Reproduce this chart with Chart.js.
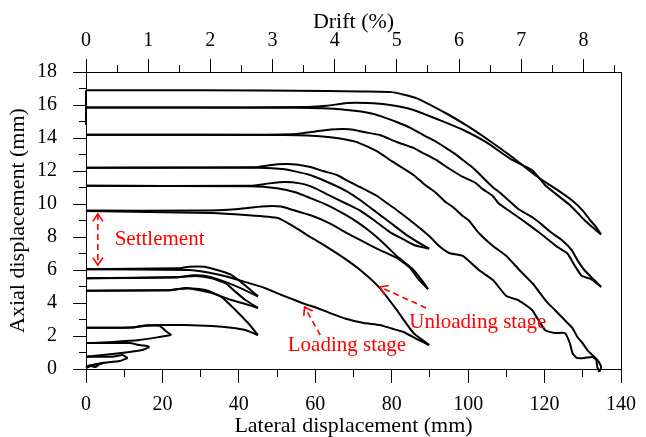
<!DOCTYPE html>
<html><head><meta charset="utf-8">
<script src="https://cdn.jsdelivr.net/npm/chart.js@4.4.1/dist/chart.umd.min.js"></script>
<style>html,body{margin:0;padding:0;background:#fff}#wrap{width:646px;height:437px}</style>
</head><body><div id="wrap"><canvas id="c" width="646" height="437"></canvas></div>
<script>
// ---------------- tick labels ----------------
const lateralTicks = [0,10,20,30,40,50,60,70,80,90,100,110,120,130,140];
const axialTicks = [0,1,2,3,4,5,6,7,8,9,10,11,12,13,14,15,16,17,18];
const driftTicks = [0,0.5,1,1.5,2,2.5,3,3.5,4,4.5,5,5.5,6,6.5,7,7.5,8,8.5];
const mmPerDriftPercent = 16.27;

// ---------------- series: [lateral mm, axial mm] ----------------
const tinyLoop   = [[0,0.05],[1.2,0.18],[2.5,0.12],[3.6,0.3],[4.7,0.38],[3.2,0.3],[1.8,0.24],[0.6,0.2],[0,0.1]];
const cycle1Out  = [[0,0.12],[1.8,0.24],[4.4,0.36],[8.8,0.48],[10.9,0.67]];
const cycle1Back = [[10.9,0.67],[9.6,0.85],[7,0.74],[0,0.74]];
const cycle2Out  = [[0,0.76],[1.8,0.79],[7,0.91],[11.4,1.03],[14.8,1.15],[16.6,1.33]];
const cycle2Back = [[16.6,1.33],[16,1.39],[14,1.45],[11.4,1.57],[0,1.57]];
const cycle3Out  = [[0,1.57],[1.8,1.58],[7,1.64],[14,1.76],[19.2,1.94],[22.3,2.06]];
const cycle3Back = [[22.3,2.06],[21.2,2.24],[19.2,2.62],[15.8,2.62],[12,2.52],[0,2.5]];

const load45a   = [[0,2.5],[12,2.52],[15.8,2.65],[19.2,2.67],[26,2.66],[32.9,2.6],[38,2.5],[41.7,2.36],[45,2.06]];
const unload45a = [[45,2.06],[42.4,2.79],[39.1,3.58],[35.5,4.36],[31.3,4.79],[26.1,4.91],[22,4.78],[0,4.75]];
const load45b   = [[0,4.75],[22,4.78],[24.3,4.85],[26.9,4.88],[29,4.8],[32.9,4.6],[38,4.18],[41.5,3.95],[45,3.7]];
const unload45b = [[45,3.7],[41.7,4.18],[39,4.7],[36.5,5.2],[32.9,5.5],[28.7,5.64],[24.3,5.58],[0,5.5]];
const load45c   = [[0,5.5],[24,5.55],[28,5.68],[31,5.65],[35,5.4],[40,4.95],[45,4.4]];
const unload45c = [[45,4.4],[42,5.0],[38,5.7],[35,5.95],[31,6.2],[27,6.2],[24,6.1],[0,6.05]];

const load90a   = [[0,6.05],[26.9,6.0],[32,5.85],[37.3,5.58],[42,5.25],[46.8,4.91],[51,4.5],[54.6,4.18],[57.2,3.95],[60.5,3.7],[63.9,3.39],[68,3.05],[72.7,2.79],[76.9,2.67],[80,2.45],[83.1,2.24],[87,1.76],[89.8,1.45]];
const unload90a = [[89.8,1.45],[85.7,2.18],[81.3,3.58],[76.9,4.9],[72.7,5.82],[68.3,6.6],[63.1,7.39],[58.7,8.0],[54.6,8.6],[50.2,9.15],[41.7,9.33],[32.9,9.45],[0,9.58]];
const load90b   = [[0,9.6],[30,9.6],[40,9.7],[46,9.85],[51,9.85],[54,9.65],[59,9.3],[63.5,8.85],[68.3,8.24],[71.7,7.82],[76.9,7.21],[81.3,6.73],[84.6,6.18],[87.2,5.39],[89.5,4.85]];
const unload90b = [[89.5,4.85],[88.3,5.25],[85.7,6.0],[81.3,6.85],[77.5,7.7],[74.5,8.3],[71,8.9],[67.5,9.4],[63,9.95],[58.7,10.36],[55,10.7],[50,10.95],[43,11.08],[0,11.1]];
const load90c   = [[0,11.1],[43,11.1],[48,11.25],[52,11.33],[56,11.25],[59,11.05],[63,10.6],[68.3,10.0],[71.7,9.6],[75.3,9.03],[79.5,8.3],[83.1,7.85],[86,7.5],[89.8,7.3]];
const unload90c = [[89.8,7.3],[87.5,7.6],[84,8.1],[80,8.8],[76,9.5],[72,10.2],[68,10.8],[63,11.35],[58,11.8],[52,12.1],[45,12.2],[0,12.2]];

const load135a   = [[0,12.2],[44.3,12.22],[48,12.35],[52,12.42],[55.5,12.38],[58.7,12.24],[62,12.0],[65.7,11.76],[68.5,11.4],[71.7,11.03],[76.1,10.5],[78.7,10.06],[81.3,9.64],[85.7,8.85],[89.8,8.06],[92.4,7.45],[95,7.03],[98.6,6.85],[102.8,6.0],[106.5,5.39],[110,4.42],[113.1,4.18],[116.7,3.58],[120.1,2.36],[122.7,2.18],[125.3,2.18],[126.6,1.58],[127.3,0.97],[128.4,0.67],[130.4,0.67],[132.5,0.73],[133.5,0.55],[133.8,0.12],[134.3,-0.18]];
const unload135a = [[134.3,-0.18],[134.8,0.12],[133.8,0.55],[132.5,0.85],[131.2,1.15],[129.9,1.58],[128.6,1.94],[127.3,2.48],[126,2.79],[124.5,3.15],[122.7,3.58],[120.4,4.12],[117,5.15],[113.4,6.0],[110,6.85],[106.5,7.45],[102.8,8.24],[100.2,9.0],[98.6,9.27],[96,9.82],[94.2,10.1],[91.6,10.67],[88.5,11.2],[85.7,11.76],[80,12.6],[76.1,13.2],[70.9,13.75],[68.3,13.9],[64,14.05],[58,14.15],[52,14.18],[0,14.2]];
const load135b   = [[0,14.2],[40,14.2],[55,14.25],[60,14.4],[64,14.52],[67.5,14.55],[70,14.5],[72.7,14.36],[76.9,14.18],[81.3,13.76],[85.7,13.4],[88.5,13.05],[91.6,12.67],[95,12.15],[98.6,11.64],[102,11.27],[103.8,10.9],[106.4,10.5],[107.9,10.06],[110,9.7],[112.5,9.3],[116.7,8.6],[120.1,8.0],[123.4,7.39],[126,7.0],[127.8,6.3],[129.7,5.65],[132.2,5.45],[134.8,4.97]];
const unload135b = [[134.8,4.97],[133,5.39],[130.4,6.0],[128.6,6.6],[127.1,7.21],[124.5,7.82],[121.9,8.24],[119.3,8.75],[116.7,9.21],[113.1,9.7],[110.5,10.24],[108.5,10.65],[106.4,11.03],[104.5,11.45],[102.7,11.88],[100.7,12.3],[98.6,12.67],[96.5,13.05],[94.2,13.4],[91.5,13.8],[88.3,14.18],[85,14.6],[81.3,14.97],[78,15.25],[75.3,15.45],[72,15.6],[68.3,15.7],[62,15.8],[55,15.83],[0,15.85]];
const load135c   = [[0,15.85],[40,15.85],[58,15.88],[63,15.95],[68.3,16.12],[73.5,16.12],[79.5,16.0],[85.7,15.7],[92.4,15.1],[98.6,14.5],[104.6,13.76],[111.5,12.67],[116.7,12.06],[118.5,11.6],[120.1,11.15],[123,10.6],[126.6,9.94],[128.5,9.5],[130.4,9.03],[132.5,8.6],[134.3,8.24],[134.8,8.15]];
const unload135c = [[134.8,8.15],[133.5,8.6],[132,9.0],[130,9.6],[127.3,10.2],[124,10.75],[121,11.2],[117.5,11.76],[111.5,12.85],[105.3,13.88],[100.2,14.67],[94.2,15.5],[86.4,16.42],[80,16.78],[72,16.82],[63,16.85],[30,16.9],[0,16.9]];
const finalDrop  = [[0,16.9],[0,14.8]];

const allSeries = [tinyLoop,cycle1Out,cycle1Back,cycle2Out,cycle2Back,cycle3Out,cycle3Back,
  load45a,unload45a,load45b,unload45b,load45c,unload45c,
  load90a,unload90a,load90b,unload90b,load90c,unload90c,
  load135a,unload135a,load135b,unload135b,load135c,unload135c,finalDrop];

// ---------------- annotations (data coordinates) ----------------
const noteTexts = [
  {text:'Settlement', x:7.5, y:7.82},
  {text:'Loading stage', x:52.8, y:1.45},
  {text:'Unloading stage', x:84.6, y:2.79}
];
const noteArrows = [
  {from:[3.1,9.4], to:[3.1,6.3], both:true},
  {from:[61.3,2.06], to:[57.2,3.76], both:false},
  {from:[89,3.7], to:[76.9,4.97], both:false}
];

const SERIF = '"Liberation Serif", "Times New Roman", serif';
const RED = '#ff0000';

const notePlugin = {
  id:'notes',
  afterDatasetsDraw(chart){
    const {ctx, scales:{x, y}} = chart;
    ctx.save();
    ctx.strokeStyle = RED; ctx.fillStyle = RED; ctx.lineWidth = 1.6;
    const head = (px, py, ang) => {
      const L = 9, a = 0.6;
      ctx.setLineDash([]);
      ctx.beginPath();
      ctx.moveTo(px + L*Math.cos(ang+a), py + L*Math.sin(ang+a));
      ctx.lineTo(px, py);
      ctx.lineTo(px + L*Math.cos(ang-a), py + L*Math.sin(ang-a));
      ctx.stroke();
    };
    noteArrows.forEach(ar => {
      const x1 = x.getPixelForValue(ar.from[0]), y1 = y.getPixelForValue(ar.from[1]);
      const x2 = x.getPixelForValue(ar.to[0]), y2 = y.getPixelForValue(ar.to[1]);
      ctx.setLineDash([6,4]);
      ctx.beginPath(); ctx.moveTo(x1,y1); ctx.lineTo(x2,y2); ctx.stroke();
      head(x2, y2, Math.atan2(y1-y2, x1-x2));
      if (ar.both) head(x1, y1, Math.atan2(y2-y1, x2-x1));
    });
    ctx.font = '21px ' + SERIF;
    ctx.textAlign = 'left'; ctx.textBaseline = 'middle';
    noteTexts.forEach(t => ctx.fillText(t.text, x.getPixelForValue(t.x), y.getPixelForValue(t.y)));
    ctx.restore();
  }
};

const tickFont = {family: SERIF, size: 20};
const titleFont = {family: SERIF, size: 22, lineHeight: 1};

new Chart(document.getElementById('c'), {
  type:'scatter',
  data:{ datasets: allSeries.map(s => ({
    data: s.map(p => ({x:p[0], y:p[1]})),
    showLine:true, borderColor:'#000', borderWidth:2, pointRadius:0, pointHoverRadius:0,
    tension:0.15, fill:false, clip:false
  }))},
  options:{
    responsive:false, animation:false, devicePixelRatio:1,
    layout:{padding:0},
    plugins:{legend:{display:false}, tooltip:{enabled:false}},
    scales:{
      x:{type:'linear', position:'bottom', min:0, max:140,
        afterBuildTicks: s => { s.ticks = lateralTicks.map(v => ({value:v})); },
        afterFit: s => { s.height = 68; },
        ticks:{autoSkip:false, maxRotation:0, color:'#000', font:tickFont, padding:10,
          callback: v => (v % 20 === 0 ? String(v) : '')},
        grid:{drawOnChartArea:false, drawTicks:true, tickLength:14, tickColor:'#000', tickWidth:1,
          tickBorderDash: c => (c.tick && c.tick.value % 20 !== 0 ? [7,100] : [])},
        border:{display:true, color:'#000', width:1},
        title:{display:true, text:'Lateral displacement (mm)', color:'#000', font:titleFont, padding:{top:0,bottom:0}}
      },
      x2:{type:'linear', position:'top', min:0, max:140,
        afterBuildTicks: s => { s.ticks = driftTicks.map(d => ({value:d*mmPerDriftPercent})); },
        afterFit: s => { s.height = 72; },
        ticks:{autoSkip:false, maxRotation:0, color:'#000', font:tickFont, padding:6,
          callback: (v, i) => (driftTicks[i] % 1 === 0 ? String(driftTicks[i]) : '')},
        grid:{drawOnChartArea:false, drawTicks:true, tickLength:13, tickColor:'#000', tickWidth:1,
          tickBorderDash: c => (c.index % 2 === 1 ? [0,6,7,100] : [])},
        border:{display:true, color:'#000', width:1},
        title:{display:true, text:'Drift (%)', color:'#000', font:titleFont, padding:{top:11,bottom:0}}
      },
      y:{type:'linear', position:'left', min:0, max:18,
        afterBuildTicks: s => { s.ticks = axialTicks.map(v => ({value:v})); },
        afterFit: s => { s.width = 86; },
        ticks:{autoSkip:false, color:'#000', font:tickFont, padding:16,
          callback: v => (v % 2 === 0 ? String(v) : '')},
        grid:{drawOnChartArea:false, drawTicks:true, tickLength:13, tickColor:'#000', tickWidth:1,
          tickBorderDash: c => (c.tick && c.tick.value % 2 !== 0 ? [0,6,7,100] : [])},
        border:{display:true, color:'#000', width:1},
        title:{display:true, text:'Axial displacement (mm)', color:'#000', font:titleFont, padding:{top:7,bottom:0}}
      },
      y2:{type:'linear', position:'right', min:0, max:18,
        afterFit: s => { s.width = 19; },
        ticks:{display:false},
        grid:{drawOnChartArea:false, drawTicks:false},
        border:{display:true, color:'#000', width:1}
      }
    }
  },
  plugins:[notePlugin]
});
</script>
</body></html>
